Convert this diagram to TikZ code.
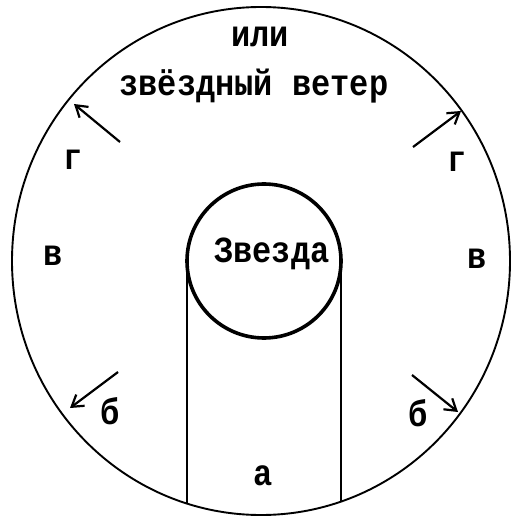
\documentclass[tikz,border=0pt]{standalone}
\usepackage{fontspec}
\setmonofont{Liberation Mono}
\usetikzlibrary{arrows.meta}
\newcommand{\tallt}[1]{\scalebox{1}[1.15]{#1}}
\tikzset{
  lbl/.style={font=\ttfamily\bfseries\fontsize{32}{36}\selectfont, inner sep=0pt},
  flow/.style={line width=2.2pt, -{Straight Barb[length=11pt,width=14pt,line width=2.2pt]}},
  rim/.style={line width=1.9pt},
  star/.style={line width=3.6pt},
  wall/.style={line width=1.6pt}
}
\begin{document}
\begin{tikzpicture}[x=1pt,y=-1pt]
\useasboundingbox (0,0) rectangle (511,518);
% outer boundary
\draw[rim] (261,261) ellipse [x radius=249, y radius=254];
% star
\draw[star] (264,261) circle [radius=77];
% tube walls
\coordinate (wl1) at (187,263);
\coordinate (wl2) at (187,503.5);
\coordinate (wr1) at (341,263);
\coordinate (wr2) at (341,501.5);
\draw[wall] (wl1) -- (wl2);
\draw[wall] (wr1) -- (wr2);
% texts
\node[lbl] (ili) at (260,37) {\tallt{или}};
\node[lbl] (wind) at (254,86) {\tallt{звёздный ветер}};
\node[lbl] (star) at (272,254) {\tallt{Звезда}};
\node[lbl] (gl) at (73,160) {\tallt{г}};
\node[lbl] (gr) at (457,162) {\tallt{г}};
\node[lbl] (vl) at (53,256) {\tallt{в}};
\node[lbl] (vr) at (477,259) {\tallt{в}};
\node[lbl] (bl) at (110,411) {\tallt{б}};
\node[lbl] (br) at (418,413) {\tallt{б}};
\node[lbl] (a) at (263,476) {\tallt{а}};
% arrows
\coordinate (t1) at (120,142); \coordinate (h1) at (74,104);
\coordinate (t2) at (413,147); \coordinate (h2) at (461,111);
\coordinate (t3) at (118,372); \coordinate (h3) at (70,408);
\coordinate (t4) at (412,375); \coordinate (h4) at (458,412);
\draw[flow] (t1) -- (h1);
\draw[flow] (t2) -- (h2);
\draw[flow] (t3) -- (h3);
\draw[flow] (t4) -- (h4);
\end{tikzpicture}
\end{document}
